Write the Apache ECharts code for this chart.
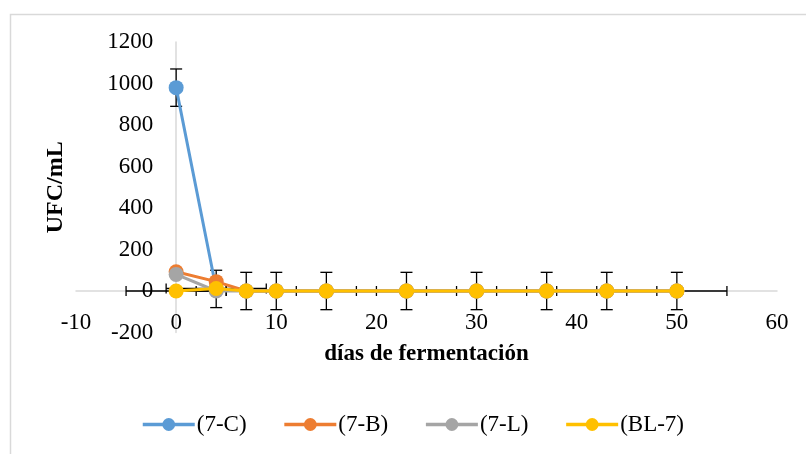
<!DOCTYPE html>
<html>
<head>
<meta charset="utf-8">
<script src="https://cdn.jsdelivr.net/npm/echarts@6/dist/echarts.min.js"></script>
<style>html,body{margin:0;padding:0;background:#fff}#c{width:806px;height:454px}</style>
</head>
<body>
<div id="c"></div>
<script>
const days = [0, 4, 7, 10, 15, 23, 30, 37, 43, 50];
const s7C = [980, 10, 0, 0, 0, 0, 0, 0, 0, 0];
const s7B = [93, 45, 0, 0, 0, 0, 0, 0, 0, 0];
const s7L = [80, 0, 0, 0, 0, 0, 0, 0, 0, 0];
const sBL7 = [0, 12, 0, 0, 0, 0, 0, 0, 0, 0];
const errY7C = 90;   // fixed y error on (7-C)
const errXBL7 = 5;   // fixed x error on (BL-7)
const names = ['(7-C)', '(7-B)', '(7-L)', '(BL-7)'];
const colors = ['#5b9bd5', '#ed7d31', '#a5a5a5', '#ffc000'];
const xTicks = { min: -10, max: 60, interval: 10 };
const yTicks = { min: -200, max: 1200, interval: 200 };

const FONT = 'Liberation Serif';
const pairs = arr => days.map((d, i) => [d, arr[i]]);
const triples = (arr, e) => days.map((d, i) => [d, arr[i], e]);

const G = { left: 76, top: 42, width: 701, height: 290.5 };
// pixel offsets so the axes sit on the zero lines (axes cross at 0)
const yAxisOffset = -G.width * (0 - xTicks.min) / (xTicks.max - xTicks.min);
const xAxisOffset = -G.height * (0 - yTicks.min) / (yTicks.max - yTicks.min);

const chart = echarts.init(document.getElementById('c'));
const lineSeries = [s7C, s7B, s7L, sBL7].map((arr, i) => ({
  name: names[i],
  type: 'line',
  data: pairs(arr),
  symbol: 'circle',
  symbolSize: 15,
  lineStyle: { width: 3, color: colors[i] },
  itemStyle: { color: colors[i] },
  z: 3 + i
}));

const st = { stroke: '#000', lineWidth: 1.3 };

chart.setOption({
  animation: false,
  graphic: [{
    type: 'rect', left: 8, top: 12, shape: { width: 820, height: 460 },
    style: { fill: 'none', stroke: '#d9d9d9', lineWidth: 1.5 }, silent: true
  }],
  grid: Object.assign({ containLabel: false, outerBoundsMode: 'none' }, G),
  legend: {
    data: names,
    left: 136, top: 408,
    itemWidth: 52, itemHeight: 16, itemGap: 36,
    lineStyle: { width: 3.5 },
    textStyle: { fontFamily: FONT, fontSize: 23, color: '#000', padding: [0, 0, 0, -3] }
  },
  xAxis: {
    type: 'value', min: xTicks.min, max: xTicks.max, interval: xTicks.interval,
    offset: xAxisOffset,
    axisLine: { show: true, onZero: false, lineStyle: { color: '#d9d9d9', width: 1.5 } },
    axisTick: { show: false }, splitLine: { show: false },
    axisLabel: { margin: 20, fontFamily: FONT, fontSize: 23, color: '#000', formatter: v => String(v) },
    name: 'días de fermentación', nameLocation: 'middle', nameGap: 52,
    nameTextStyle: { fontFamily: FONT, fontSize: 23, fontWeight: 'bold', color: '#000' }
  },
  yAxis: {
    type: 'value', min: yTicks.min, max: yTicks.max, interval: yTicks.interval,
    offset: yAxisOffset,
    axisLine: { show: true, onZero: false, lineStyle: { color: '#d9d9d9', width: 1.5 } },
    axisTick: { show: false }, splitLine: { show: false },
    axisLabel: { margin: 23, fontFamily: FONT, fontSize: 23, color: '#000', formatter: v => String(v) },
    name: 'UFC/mL', nameLocation: 'middle', nameGap: 108, nameRotate: 90,
    nameTextStyle: { fontFamily: FONT, fontSize: 24, fontWeight: 'bold', color: '#000' }
  },
  series: [
    {
      type: 'custom', name: 'errY', z: 2, silent: true,
      data: triples(s7C, errY7C),
      renderItem: function (params, api) {
        const x = api.value(0), y = api.value(1), e = api.value(2);
        const top = api.coord([x, y + e]);
        const bot = api.coord([x, y - e]);
        const cw = 6;
        return { type: 'group', children: [
          { type: 'line', shape: { x1: top[0], y1: top[1], x2: bot[0], y2: bot[1] }, style: st },
          { type: 'line', shape: { x1: top[0] - cw, y1: top[1], x2: top[0] + cw, y2: top[1] }, style: st },
          { type: 'line', shape: { x1: bot[0] - cw, y1: bot[1], x2: bot[0] + cw, y2: bot[1] }, style: st }
        ]};
      }
    },
    {
      type: 'custom', name: 'errX', z: 2, silent: true,
      data: triples(sBL7, errXBL7),
      renderItem: function (params, api) {
        const x = api.value(0), y = api.value(1), e = api.value(2);
        const l = api.coord([x - e, y]);
        const r = api.coord([x + e, y]);
        const ch = 5;
        return { type: 'group', children: [
          { type: 'line', shape: { x1: l[0], y1: l[1], x2: r[0], y2: r[1] }, style: st },
          { type: 'line', shape: { x1: l[0], y1: l[1] - ch, x2: l[0], y2: l[1] + ch }, style: st },
          { type: 'line', shape: { x1: r[0], y1: r[1] - ch, x2: r[0], y2: r[1] + ch }, style: st }
        ]};
      }
    }
  ].concat(lineSeries)
});
</script>
</body>
</html>
